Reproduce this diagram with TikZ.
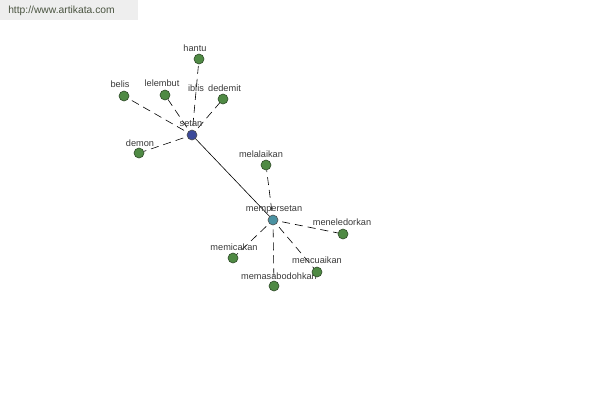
\documentclass[tikz,border=0pt]{standalone}
\usepackage{fontspec}
\setmainfont{Liberation Sans}
\pgfdeclarelayer{back}
\pgfdeclarelayer{bg}
\pgfsetlayers{back,bg,main}
\definecolor{leaf}{HTML}{4F8A44}
\definecolor{leafline}{HTML}{2E4A28}
\definecolor{hubblue}{HTML}{3C4A9A}
\definecolor{hubteal}{HTML}{4A92A2}
\definecolor{txt}{HTML}{3A3A3A}
\definecolor{wmbox}{HTML}{EEEEEE}
\definecolor{wmtxt}{HTML}{4A5440}
\tikzset{
  leafnode/.style={circle, draw=leafline, fill=leaf, line width=0.6pt, minimum size=10pt, inner sep=0pt},
  hubnode/.style={circle, draw=black!70, line width=0.6pt, minimum size=10pt, inner sep=0pt},
  lbl/.style={text=txt, font=\fontsize{9.2}{11}\selectfont, inner sep=0pt},
  dashlink/.style={draw=black, line width=0.6pt, dash pattern=on 8pt off 5pt, dash phase=-4pt},
  solidlink/.style={draw=black, line width=0.6pt}
}
\begin{document}
\begin{tikzpicture}[x=1pt,y=-1pt]
\useasboundingbox (0,0) rectangle (600,400);
\begin{pgfonlayer}{back}
\fill[white] (0,0) rectangle (600,400);
\fill[wmbox] (0,0) rectangle (138,20);
\end{pgfonlayer}
% watermark
\node[text=wmtxt, font=\fontsize{10.3}{12}\selectfont, inner sep=0pt] (wm) at (61.5,10.5) {http://www.artikata.com};
% labels
\node[lbl] (l-hantu) at (195,48) {hantu};
\node[lbl] (l-belis) at (120,84) {belis};
\node[lbl] (l-lelembut) at (162,83) {lelembut};
\node[lbl] (l-iblis) at (196,88) {iblis};
\node[lbl] (l-dedemit) at (224.5,88) {dedemit};
\node[lbl] (l-setan) at (191,124) {setan};
\node[lbl] (l-demon) at (140,143) {demon};
\node[lbl] (l-melalaikan) at (261,154) {melalaikan};
\node[lbl] (l-mempersetan) at (274,209) {mempersetan};
\node[lbl] (l-meneledorkan) at (342,222) {meneledorkan};
\node[lbl] (l-memicakan) at (234,247) {memicakan};
\node[lbl] (l-mencuaikan) at (317,260) {mencuaikan};
\node[lbl] (l-memasabodohkan) at (279,276) {memasabodohkan};
% nodes
\node[leafnode] (hantu) at (199,59) {};
\node[leafnode] (belis) at (124,96) {};
\node[leafnode] (lelembut) at (165,95) {};
\node[leafnode] (dedemit) at (223,99) {};
\node[leafnode] (demon) at (139,153) {};
\node[hubnode, fill=hubblue] (setan) at (192,135) {};
\node[leafnode] (melalaikan) at (266,165) {};
\node[leafnode] (meneledorkan) at (343,234) {};
\node[leafnode] (memicakan) at (233,258) {};
\node[leafnode] (mencuaikan) at (317,272) {};
\node[leafnode] (memasabodohkan) at (274,286) {};
\node[hubnode, fill=hubteal] (mempersetan) at (273,220) {};
% links
\begin{pgfonlayer}{bg}
\draw[solidlink] (setan.center) -- (mempersetan.center);
\foreach \t in {hantu,belis,lelembut,dedemit,demon}
  \draw[dashlink] (setan) -- (\t);
\foreach \t in {melalaikan,meneledorkan,memicakan,mencuaikan,memasabodohkan}
  \draw[dashlink] (mempersetan) -- (\t);
\end{pgfonlayer}
\end{tikzpicture}
\end{document}
